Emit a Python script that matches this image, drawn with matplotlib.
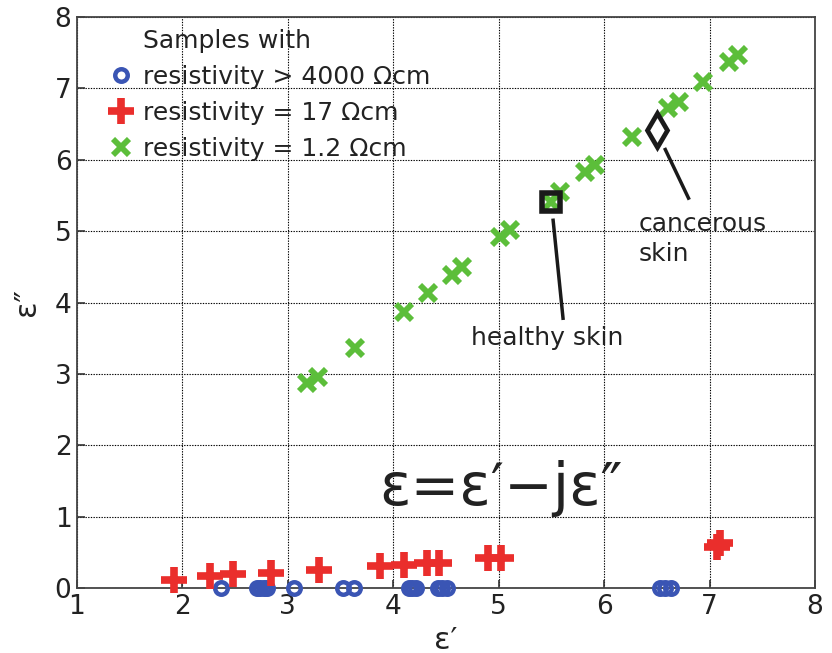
import matplotlib
matplotlib.use("Agg")
import matplotlib.pyplot as plt
from matplotlib.lines import Line2D

# ---- data ----
blue_x = [2.37, 2.71, 2.74, 2.77, 2.80, 3.06, 3.52, 3.63, 4.15, 4.18, 4.22,
          4.42, 4.46, 4.51, 6.53, 6.58, 6.63]
blue_y = [0.0] * len(blue_x)

red_x = [1.92, 2.26, 2.48, 2.84, 3.30, 3.87, 4.10, 4.32, 4.43, 4.90, 5.02, 7.07, 7.10]
red_y = [0.12, 0.17, 0.20, 0.22, 0.26, 0.31, 0.33, 0.35, 0.36, 0.42, 0.42, 0.58, 0.64]

green_x = [3.18, 3.29, 3.64, 4.10, 4.33, 4.56, 4.65, 5.01, 5.11, 5.50, 5.58,
           5.82, 5.91, 6.26, 6.61, 6.71, 6.94, 7.18, 7.27]
green_y = [2.87, 2.96, 3.36, 3.87, 4.13, 4.38, 4.50, 4.92, 5.02, 5.41, 5.55,
           5.83, 5.92, 6.32, 6.72, 6.81, 7.09, 7.37, 7.46]

healthy = (5.50, 5.41)
cancer = (6.50, 6.41)

legend_labels = ["Samples with", "resistivity > 4000 \u03a9cm",
                 "resistivity = 17 \u03a9cm", "resistivity = 1.2 \u03a9cm"]
xticks = [1, 2, 3, 4, 5, 6, 7, 8]
yticks = [0, 1, 2, 3, 4, 5, 6, 7, 8]

BLUE = "#3a55b4"
RED = "#ea2e2c"
GREEN = "#5cbe3a"
TXT = "#222222"

plt.rcParams['font.family'] = ['DejaVu Sans']

fig = plt.figure(figsize=(8.32, 6.53), dpi=100)
ax = fig.add_axes([0.0925, 0.0988, 0.8871, 0.8759])

ax.set_xlim(1, 8)
ax.set_ylim(0, 8)
ax.set_xticks(xticks)
ax.set_yticks(yticks)
ax.tick_params(direction='in', length=6, width=1.2, labelsize=19, colors='#333333',
               labelcolor=TXT, pad=4)
for s in ax.spines.values():
    s.set_color('#444444')
    s.set_linewidth(1.3)
ax.grid(True, color='black', linestyle=(0, (1.2, 1.2)), linewidth=0.8)
ax.set_axisbelow(True)

hb, = ax.plot(blue_x, blue_y, linestyle='none', marker='o', markersize=9,
              markerfacecolor='none', markeredgecolor=BLUE, markeredgewidth=3.2,
              clip_on=False, zorder=3)
hr, = ax.plot(red_x, red_y, linestyle='none', marker='+', markersize=19,
              markeredgecolor=RED, markeredgewidth=5.5, clip_on=False, zorder=4)
hg, = ax.plot(green_x, green_y, linestyle='none', marker='x', markersize=11,
              markeredgecolor=GREEN, markeredgewidth=4.2, zorder=4)

ax.plot([healthy[0]], [healthy[1]], linestyle='none', marker='s', markersize=13,
        markerfacecolor='none', markeredgecolor='#1a1a1a', markeredgewidth=4, zorder=5)
ax.plot([cancer[0]], [cancer[1]], linestyle='none', marker='d', markersize=17,
        markerfacecolor='white', markeredgecolor='#1a1a1a', markeredgewidth=3.4, zorder=5)

# annotation leader lines
ax.plot([5.516, 5.61], [5.15, 3.78], color='#1a1a1a', linewidth=2.5, zorder=5)
ax.plot([6.58, 6.80], [6.14, 5.46], color='#1a1a1a', linewidth=2.5, zorder=5)
ax.text(5.46, 3.50, "healthy skin", fontsize=18, color=TXT, ha='center', va='center')
ax.text(6.33, 4.89, "cancerous\nskin", fontsize=18, color=TXT, ha='left', va='center',
        linespacing=1.3)

ax.text(5.02, 1.17, "\u03b5=\u03b5\u2032\u2212j\u03b5\u2033", fontsize=42, color=TXT,
        ha='center', va='baseline')

ax.set_xlabel("\u03b5\u2032", fontsize=22, color=TXT, labelpad=4)
ax.set_ylabel("\u03b5\u2033", fontsize=22, color=TXT, labelpad=10)

blank = Line2D([], [], linestyle='none')
leg = ax.legend([blank, hb, hr, hg], legend_labels, loc='upper left',
                bbox_to_anchor=(0.027, 0.997), frameon=False, fontsize=18,
                handlelength=1.0, handletextpad=0.4, labelspacing=0.47,
                borderaxespad=0.05, numpoints=1)
for t in leg.get_texts():
    t.set_color(TXT)
leg.legend_handles[1].set_markersize(9)
leg.legend_handles[2].set_markersize(19)
leg.legend_handles[3].set_markersize(11)

fig.savefig("out.png", dpi=100)
